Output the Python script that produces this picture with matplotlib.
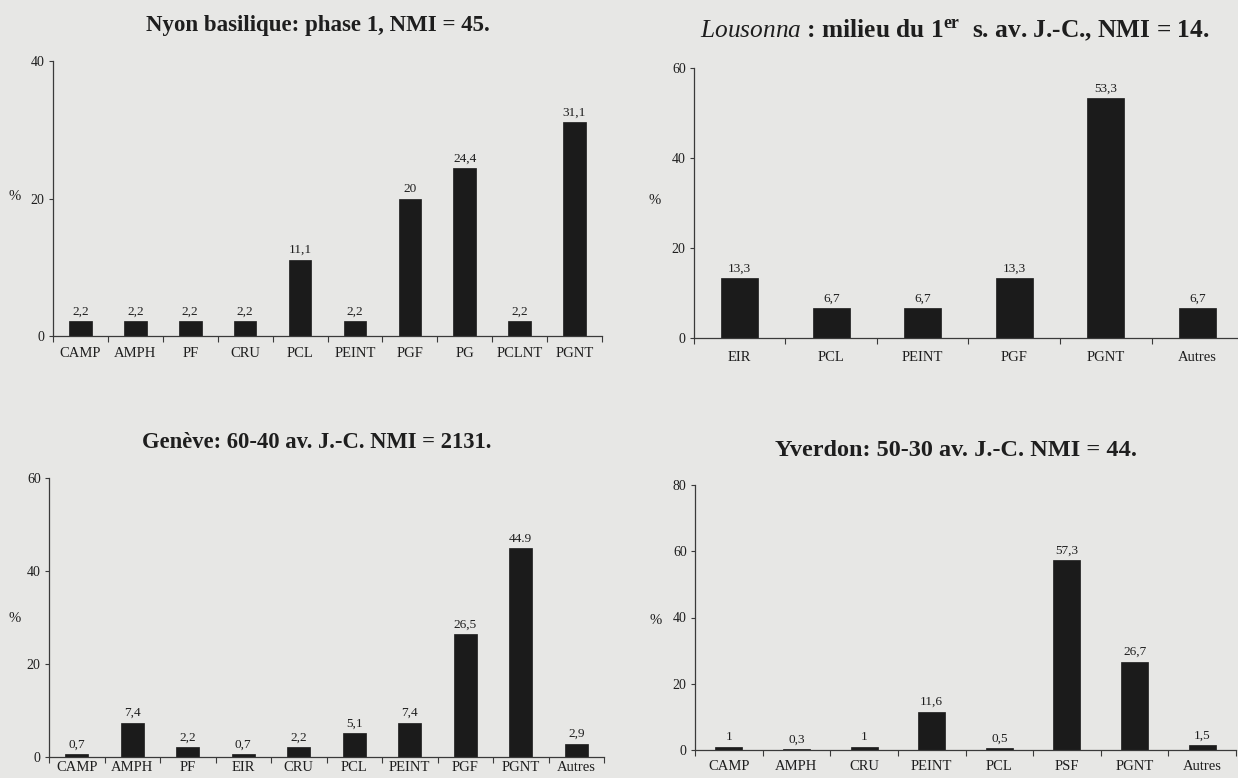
import numpy as np
import matplotlib
matplotlib.use("Agg")
import matplotlib.pyplot as plt
from matplotlib.ticker import FixedLocator, FixedFormatter, NullFormatter

# --- data -----------------------------------------------------------------
nyon_cats = ["CAMP", "AMPH", "PF", "CRU", "PCL", "PEINT", "PGF", "PG", "PCLNT", "PGNT"]
nyon_vals = [2.2, 2.2, 2.2, 2.2, 11.1, 2.2, 20, 24.4, 2.2, 31.1]

lous_cats = ["EIR", "PCL", "PEINT", "PGF", "PGNT", "Autres"]
lous_vals = [13.3, 6.7, 6.7, 13.3, 53.3, 6.7]

gen_cats = ["CAMP", "AMPH", "PF", "EIR", "CRU", "PCL", "PEINT", "PGF", "PGNT", "Autres"]
gen_vals = [0.7, 7.4, 2.2, 0.7, 2.2, 5.1, 7.4, 26.5, 44.9, 2.9]
gen_marks = [",", ",", ",", ",", ",", ",", ",", ",", ".", ","]

yv_cats = ["CAMP", "AMPH", "CRU", "PEINT", "PCL", "PSF", "PGNT", "Autres"]
yv_vals = [1, 0.3, 1, 11.6, 0.5, 57.3, 26.7, 1.5]

# --- style ----------------------------------------------------------------
W, H = 1238, 778
BG = "#e7e7e5"
INK = "#1e1e1e"
BAR = "#1b1b1b"
AXC = "#3a3a3a"

plt.rcParams["font.family"] = ["Liberation Serif", "DejaVu Serif"]
plt.rcParams["mathtext.fontset"] = "custom"
plt.rcParams["mathtext.rm"] = "Liberation Serif:bold"
plt.rcParams["mathtext.bf"] = "Liberation Serif:bold"
plt.rcParams["mathtext.it"] = "Liberation Serif:italic"
plt.rcParams["text.color"] = INK

fig = plt.figure(figsize=(W / 100, H / 100), dpi=100, facecolor=BG)


def fmt(v, mark=","):
    return f"{v:g}".replace(".", mark)


def panel(box, cats, vals, ymax, ystep, bw, title, title_xy, title_size, pct_xy,
          marks=None, xpad=6):
    left, top, right, bottom = box
    ax = fig.add_axes([left / W, 1 - bottom / H, (right - left) / W, (bottom - top) / H])
    ax.set_facecolor("none")
    x = np.arange(len(cats))
    ax.bar(x, vals, width=bw, color=BAR, edgecolor=BAR, linewidth=0.5, zorder=2)
    ax.set_xlim(-0.5, len(cats) - 0.5)
    ax.set_ylim(0, ymax)

    for s in ("top", "right"):
        ax.spines[s].set_visible(False)
    for s in ("left", "bottom"):
        ax.spines[s].set_color(AXC)
        ax.spines[s].set_linewidth(0.9)

    ax.yaxis.set_major_locator(FixedLocator(np.arange(0, ymax + 0.1, ystep)))
    ax.tick_params(axis="y", direction="out", length=3, width=0.8, color=AXC,
                   pad=3, labelsize=10, labelcolor=INK)

    # ticks sit between categories, names sit under the bars
    ax.xaxis.set_major_locator(FixedLocator(np.arange(-0.5, len(cats))))
    ax.xaxis.set_major_formatter(NullFormatter())
    ax.xaxis.set_minor_locator(FixedLocator(x))
    ax.xaxis.set_minor_formatter(FixedFormatter(cats))
    ax.tick_params(axis="x", which="major", direction="out", length=4,
                   width=0.8, color=AXC)
    ax.tick_params(axis="x", which="minor", length=0, pad=xpad,
                   labelsize=10.5, labelcolor=INK)

    if marks is None:
        marks = [","] * len(vals)
    for xi, v, m in zip(x, vals, marks):
        ax.annotate(fmt(v, m), (xi, v), xytext=(0, 2.5), textcoords="offset points",
                    ha="center", va="bottom", fontsize=9.5, color=INK)

    fig.text(title_xy[0] / W, 1 - title_xy[1] / H, title, ha="center", va="center",
             fontsize=title_size, fontweight="bold", color=INK)
    fig.text(pct_xy[0] / W, 1 - pct_xy[1] / H, "%", ha="center", va="center",
             fontsize=10.5, color=INK)
    return ax


panel((53, 61, 602, 336), nyon_cats, nyon_vals, 40, 20, 0.41,
      "Nyon basilique: phase 1, NMI = 45.", (318, 25), 16.5, (15, 197), xpad=8)

panel((694, 68, 1243, 338), lous_cats, lous_vals, 60, 20, 0.40,
      r"$\mathit{Lousonna}$ : milieu du 1$^{\mathrm{er}}$  s. av. J.-C., NMI = 14.",
      (955, 30), 18.3, (655, 200), xpad=9.5)

panel((49, 478, 604, 757), gen_cats, gen_vals, 60, 20, 0.41,
      "Genève: 60-40 av. J.-C. NMI = 2131.", (317, 443), 16.3, (15, 618),
      marks=gen_marks, xpad=3)

panel((695, 485, 1236, 750), yv_cats, yv_vals, 80, 20, 0.40,
      "Yverdon: 50-30 av. J.-C. NMI = 44.", (956, 450), 17.5, (656, 620), xpad=7.5)

fig.savefig("out.png", dpi=100, facecolor=BG)
